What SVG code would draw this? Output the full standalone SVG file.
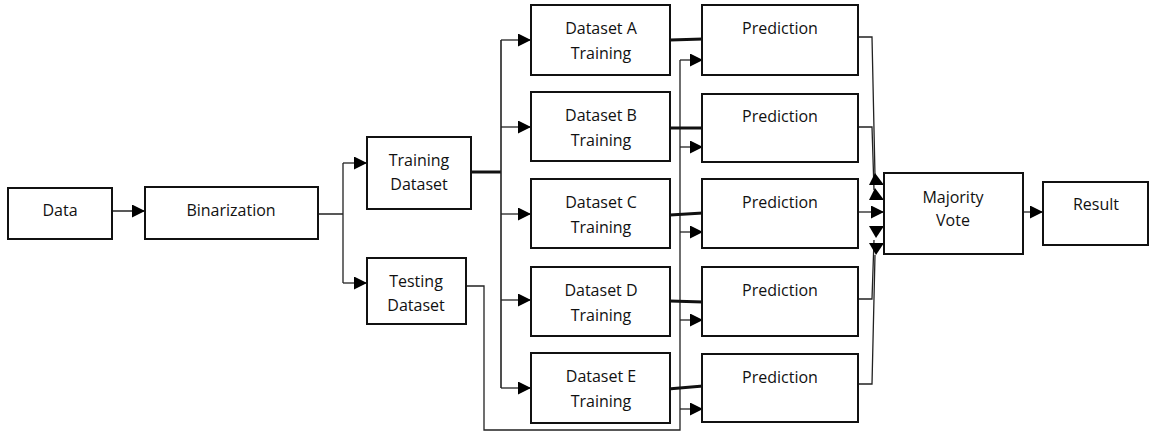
<svg xmlns="http://www.w3.org/2000/svg" width="1150" height="435" viewBox="0 0 1150 435">
<style>
.box{fill:#fff;stroke:#111;stroke-width:2}
.t{font-family:"Open Sans","Noto Sans",sans-serif;font-size:16px;fill:#111;text-anchor:middle}
.ln{fill:none;stroke:#222;stroke-width:1.3}
.thick{fill:none;stroke:#111;stroke-width:3}
.tri{fill:#000}
</style>
<defs>
<marker id="ah" markerUnits="userSpaceOnUse" markerWidth="13" markerHeight="13" refX="13" refY="6.5" orient="auto">
<path d="M0,0 L13,6.5 L0,13 z" fill="#000"/>
</marker>
</defs>
<rect width="1150" height="435" fill="#fff"/>
<g id="connectors">
<path class="ln" d="M112,211 H145" marker-end="url(#ah)"/>
<path class="ln" d="M318,214 H343 M343,163 V283"/>
<path class="ln" d="M343,163 H367" marker-end="url(#ah)"/>
<path class="ln" d="M343,283 H367" marker-end="url(#ah)"/>
<path class="thick" d="M471,172 H501"/>
<path class="ln" style="stroke-width:1.6" d="M501,40 V388"/>
<path class="ln" d="M501,40 H531" marker-end="url(#ah)"/>
<path class="ln" d="M501,127 H531" marker-end="url(#ah)"/>
<path class="ln" d="M501,214 H531" marker-end="url(#ah)"/>
<path class="ln" d="M501,300 H531" marker-end="url(#ah)"/>
<path class="ln" d="M501,388 H531" marker-end="url(#ah)"/>
<path class="ln" d="M466,286 H484 V430 H680 V60"/>
<path class="ln" d="M680,60 H703" marker-end="url(#ah)"/>
<path class="ln" d="M680,147 H703" marker-end="url(#ah)"/>
<path class="ln" d="M680,232 H703" marker-end="url(#ah)"/>
<path class="ln" d="M680,320 H703" marker-end="url(#ah)"/>
<path class="ln" d="M680,409 H703" marker-end="url(#ah)"/>
<path class="thick" d="M670,40 L703,39"/>
<path class="thick" d="M670,128 L703,128"/>
<path class="thick" d="M670,215 L703,213"/>
<path class="thick" d="M670,301 L703,302"/>
<path class="thick" d="M668,389 L703,386"/>
<path class="ln" d="M858,37 H872 L875,176"/>
<path class="ln" d="M858,127 H872 L874,190"/>
<path class="ln" d="M858,212 H884" marker-end="url(#ah)"/>
<path class="ln" d="M858,299 H872 L874,240"/>
<path class="ln" d="M858,384 H872 L875,255"/>
<polygon class="tri" points="875,173 869,185 884,185"/>
<polygon class="tri" points="875,188 869,200 884,200"/>
<polygon class="tri" points="869,226 884,226 876,238"/>
<polygon class="tri" points="869,243 884,243 876,255"/>
<path class="ln" d="M1023,212 H1043" marker-end="url(#ah)"/>
</g>
<g id="data"><rect class="box" x="8" y="188" width="104" height="51"/><text class="t" x="60" y="216">Data</text></g>
<g id="binarization"><rect class="box" x="145" y="187" width="173" height="52"/><text class="t" x="231" y="216">Binarization</text></g>
<g id="training-dataset"><rect class="box" x="367" y="137" width="104" height="72"/><text class="t" x="419" y="166">Training</text><text class="t" x="419" y="190">Dataset</text></g>
<g id="testing-dataset"><rect class="box" x="367" y="258" width="99" height="66"/><text class="t" x="416" y="287">Testing</text><text class="t" x="416" y="311">Dataset</text></g>
<g id="dataset-a"><rect class="box" x="531" y="5" width="139" height="70"/><text class="t" x="601" y="34">Dataset A</text><text class="t" x="601" y="59">Training</text></g>
<g id="dataset-b"><rect class="box" x="531" y="92" width="139" height="69"/><text class="t" x="601" y="121">Dataset B</text><text class="t" x="601" y="146">Training</text></g>
<g id="dataset-c"><rect class="box" x="531" y="179" width="139" height="69"/><text class="t" x="601" y="208">Dataset C</text><text class="t" x="601" y="233">Training</text></g>
<g id="dataset-d"><rect class="box" x="531" y="267" width="139" height="69"/><text class="t" x="601" y="296">Dataset D</text><text class="t" x="601" y="321">Training</text></g>
<g id="dataset-e"><rect class="box" x="531" y="353" width="139" height="70"/><text class="t" x="601" y="382">Dataset E</text><text class="t" x="601" y="407">Training</text></g>
<g id="prediction-a"><rect class="box" x="702" y="5" width="156" height="70"/><text class="t" x="780" y="34">Prediction</text></g>
<g id="prediction-b"><rect class="box" x="702" y="94" width="156" height="68"/><text class="t" x="780" y="122">Prediction</text></g>
<g id="prediction-c"><rect class="box" x="702" y="179" width="156" height="69"/><text class="t" x="780" y="208">Prediction</text></g>
<g id="prediction-d"><rect class="box" x="702" y="267" width="156" height="69"/><text class="t" x="780" y="296">Prediction</text></g>
<g id="prediction-e"><rect class="box" x="702" y="354" width="156" height="68"/><text class="t" x="780" y="383">Prediction</text></g>
<g id="majority-vote"><rect class="box" x="884" y="173" width="139" height="81"/><text class="t" x="953" y="203">Majority</text><text class="t" x="953" y="226">Vote</text></g>
<g id="result"><rect class="box" x="1043" y="182" width="105" height="63"/><text class="t" x="1096" y="210">Result</text></g>
</svg>
